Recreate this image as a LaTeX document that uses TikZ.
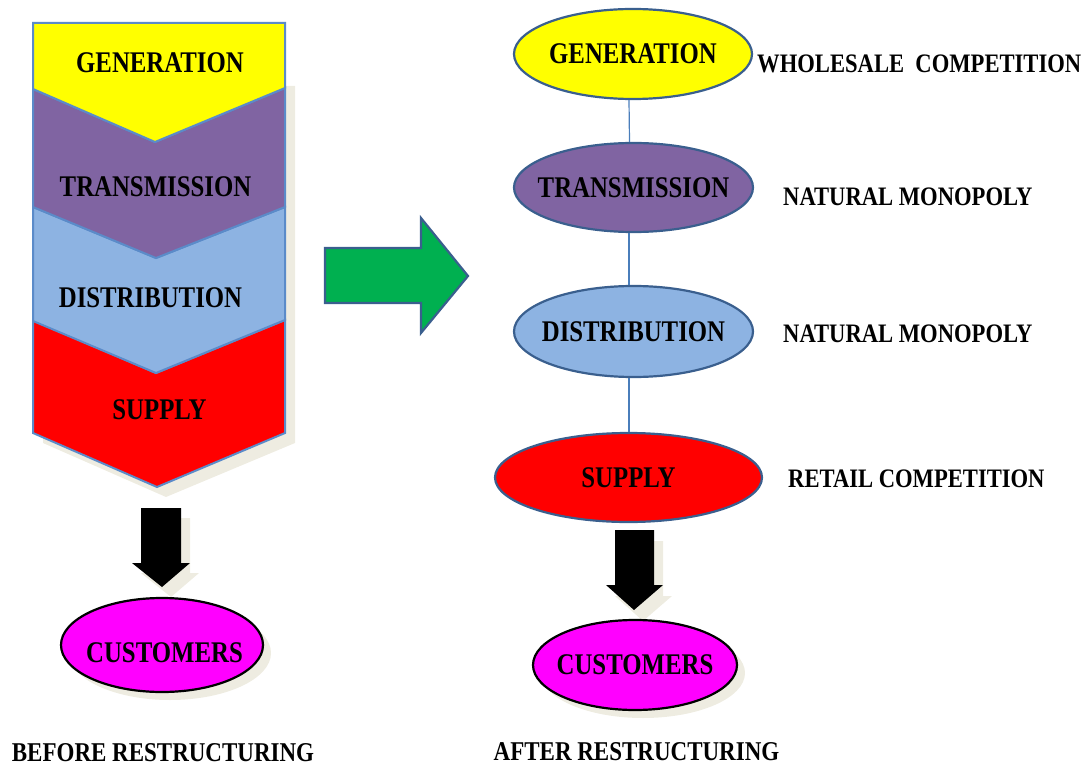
\documentclass[tikz,border=0pt]{standalone}
\usepackage{fontspec}
\setmainfont{Liberation Serif}
\usetikzlibrary{shapes.geometric}

\definecolor{genyellow}{HTML}{FFFF00}
\definecolor{transpurple}{HTML}{8064A2}
\definecolor{distblue}{HTML}{8DB3E2}
\definecolor{supplyred}{HTML}{FF0000}
\definecolor{custmagenta}{HTML}{FF00FF}
\definecolor{arrowgreen}{HTML}{00B050}
\definecolor{chevronedge}{HTML}{5B8BC9}
\definecolor{ovaledge}{HTML}{3A5F8E}
\definecolor{linkblue}{HTML}{4A7EBB}
\definecolor{shade}{HTML}{EEECE1}

% stretched bold captions
\newcommand{\tallcap}[1]{\scalebox{1}[1.21]{#1}}
\newcommand{\talllbl}[1]{\scalebox{1}[1.18]{#1}}

\tikzset{
  chevron/.style={draw=chevronedge, line width=2pt, line join=miter},
  oval/.style={ellipse, draw=ovaledge, line width=2.2pt, inner xsep=-30pt, inner ysep=0pt,
               font=\bfseries\fontsize{24.8}{28}\selectfont},
  custoval/.style={ellipse, draw=black, line width=2.2pt, fill=custmagenta, inner xsep=-30pt, inner ysep=0pt,
               font=\bfseries\fontsize{24.8}{28}\selectfont},
  captxt/.style={inner sep=0pt, font=\bfseries\fontsize{24.8}{28}\selectfont},
  sidetxt/.style={inner sep=0pt, font=\bfseries\fontsize{22.6}{26}\selectfont},
  foottxt/.style={inner sep=0pt, font=\bfseries\fontsize{23}{27}\selectfont},
  link/.style={draw=linkblue, line width=1.2pt},
  blockarrow/.style={fill=black},
  shadowfill/.style={fill=shade}
}

\begin{document}
\begin{tikzpicture}[x=1pt, y=-1pt]
\useasboundingbox (0,0) rectangle (1086,767);

% ---------- before: stacked chevrons ----------
\fill[shadowfill] (43,86) -- (295,86) -- (295,443) -- (166,497) -- (43,443) -- cycle;
\filldraw[chevron, fill=supplyred]
  (33,320) -- (156,373) -- (285,320) -- (285,433) -- (157,487) -- (33,433) -- cycle;
\filldraw[chevron, fill=distblue]
  (33,207) -- (156,258) -- (285,207) -- (285,320) -- (156,373) -- (33,321) -- cycle;
\filldraw[chevron, fill=transpurple]
  (33,89) -- (155,142) -- (285,88) -- (285,207) -- (156,258) -- (33,207) -- cycle;
\filldraw[chevron, fill=genyellow]
  (33,23) -- (285,23) -- (285,88) -- (155,142) -- (33,89) -- cycle;

\node[captxt] (lgen)   at (160,63)  {\tallcap{GENERATION}};
\node[captxt] (ltrans) at (155.5,187) {\tallcap{TRANSMISSION}};
\node[captxt] (ldist)  at (150.5,298) {\tallcap{DISTRIBUTION}};
\node[captxt] (lsup)   at (159.5,410) {\tallcap{SUPPLY}};

% down arrow to customers (before)
\fill[shadowfill] (150,518) -- (190,518) -- (190,573) -- (199,573) -- (171,597) -- (141,573) -- (150,573) -- cycle;
\fill[blockarrow] (141,508) -- (181,508) -- (181,563) -- (190,563) -- (162,587) -- (132,563) -- (141,563) -- cycle;

\fill[shadowfill] (170,653) ellipse [x radius=101, y radius=47];
\node[custoval, minimum width=202, minimum height=94] (lcust) at (162,645) {};
\node[captxt] (lcusttxt) at (164.5,653) {\tallcap{CUSTOMERS}};

\node[foottxt] (before) at (163,753) {\talllbl{BEFORE RESTRUCTURING}};

% ---------- transition arrow ----------
\filldraw[fill=arrowgreen, draw=ovaledge, line width=2.2pt, line join=miter]
  (325,248) -- (421,248) -- (421,218) -- (468,276) -- (421,333) -- (421,303) -- (325,303) -- cycle;

% ---------- after: separated segments ----------
\node[oval, fill=genyellow,   minimum width=238, minimum height=90] (rgen)   at (633,54)    {\tallcap{GENERATION}};
\node[oval, fill=transpurple, minimum width=239, minimum height=89] (rtrans) at (633.5,187.5) {\tallcap{TRANSMISSION}};
\node[oval, fill=distblue,    minimum width=239, minimum height=91] (rdist)  at (633.5,331.5) {\tallcap{DISTRIBUTION}};
\node[oval, fill=supplyred,   minimum width=267, minimum height=89] (rsup)   at (628.5,477.5) {\tallcap{SUPPLY}};

\draw[link] ([xshift=-4pt]rgen.south)   -- ([xshift=-4pt]rtrans.north);
\draw[link] ([xshift=-4.5pt]rtrans.south) -- ([xshift=-4.5pt]rdist.north);
\draw[link] ([xshift=-4.5pt]rdist.south)  -- ([xshift=0.5pt]rsup.north);

\node[sidetxt, anchor=west] (wholesale) at (757,63.5) {\talllbl{WHOLESALE\ \ COMPETITION}};
\node[sidetxt, anchor=west] (mono1)     at (783,197)  {\talllbl{NATURAL MONOPOLY}};
\node[sidetxt, anchor=west] (mono2)     at (783,334)  {\talllbl{NATURAL MONOPOLY}};
\node[sidetxt, anchor=west] (retail)    at (788,478.5) {\talllbl{RETAIL COMPETITION}};

% down arrow to customers (after)
\fill[shadowfill] (624,541) -- (663,541) -- (663,596) -- (672,596) -- (643,621) -- (615,596) -- (624,596) -- cycle;
\fill[blockarrow] (615,530) -- (654,530) -- (654,585) -- (663,585) -- (634,610) -- (606,585) -- (615,585) -- cycle;

\fill[shadowfill] (643,673) ellipse [x radius=102, y radius=45];
\node[custoval, minimum width=204, minimum height=90] (rcust) at (635,665) {\tallcap{CUSTOMERS}};

\node[foottxt] (after) at (636.5,752) {\talllbl{AFTER RESTRUCTURING}};
\end{tikzpicture}
\end{document}
